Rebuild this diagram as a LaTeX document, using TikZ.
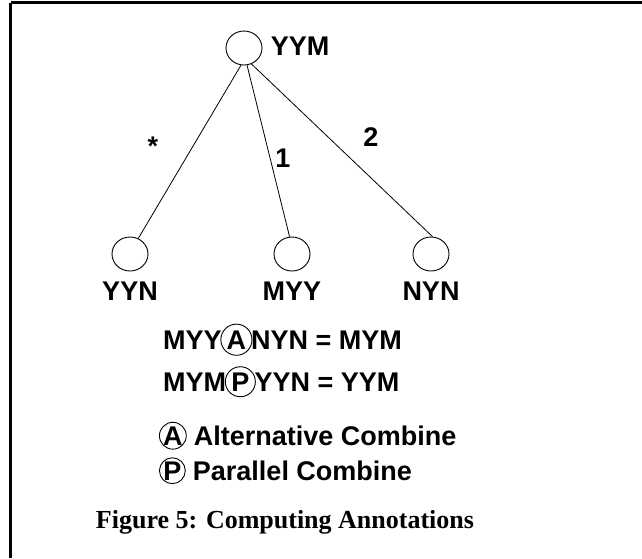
\documentclass[tikz,border=0pt]{standalone}
\usepackage{fontspec}
\setmainfont{Liberation Sans}
\newfontfamily\capfont{Liberation Serif}
\usetikzlibrary{shapes.geometric}
\begin{document}
\begin{tikzpicture}[x=1pt,y=-1pt,
  frameline/.style={line width=3pt},
  tnode/.style={draw,ellipse,minimum width=36pt,minimum height=34pt,inner sep=0pt,line width=0.9pt},
  lbl/.style={font=\fontsize{27}{30}\selectfont\bfseries,inner sep=0pt},
  circ/.style={draw,circle,inner sep=0pt,line width=0.9pt,font=\fontsize{27}{30}\selectfont\bfseries},
  bigcirc/.style={circ,inner sep=1.5pt},
  edge/.style={line width=0.8pt}]
\useasboundingbox (0,0) rectangle (642,558);
\draw[frameline] (10.5,2.5) -- (642,2.5);
\draw[frameline] (10.5,2.5) -- (10.5,558);
% tree
\node[tnode] (top) at (244,48) {};
\node[tnode] (yyn) at (130,254) {};
\node[tnode] (myy) at (292,254) {};
\node[tnode] (nyn) at (431,254) {};
\node[lbl] (ltop) at (300,46) {YYM};
\node[lbl] (lyyn) at (130,291) {YYN};
\node[lbl] (lmyy) at (292,291) {MYY};
\node[lbl] (lnyn) at (431,291) {NYN};
\draw[edge] (top.-100) -- (yyn.62);
\draw[edge] (top.-80) -- (myy.98);
\draw[edge] (top.-65) -- (nyn.85);
\node[lbl] (star) at (153,146) {*};
\node[lbl] (one) at (283,158) {1};
\node[lbl] (two) at (371,137) {2};
% equations
\node[lbl,anchor=base west] (e1a) at (163,349) {MYY};
\node[bigcirc,anchor=base west] (e1c) at ([xshift=-1.5pt]e1a.base east) {A};
\node[lbl,anchor=base west] (e1b) at ([xshift=-1.5pt]e1c.base east) {NYN = MYM};
\node[lbl,anchor=base west] (e2a) at (163,391) {MYM};
\node[bigcirc,anchor=base west] (e2c) at ([xshift=-1.5pt]e2a.base east) {P};
\node[lbl,anchor=base west] (e2b) at ([xshift=-1.5pt]e2c.base east) {YYN = YYM};
% legend
\node[circ,anchor=base west] (la) at (159,445) {A};
\node[lbl,anchor=base west] (lat) at ([xshift=7pt]la.base east) {Alternative Combine};
\node[circ,anchor=base west] (lp) at (159,480) {P};
\node[lbl,anchor=base west] (lpt) at ([xshift=7pt]lp.base east) {Parallel Combine};
% caption
\node[font=\capfont\fontsize{26}{29}\selectfont\bfseries,inner sep=0pt] (cap) at (285,522) {Figure 5: Computing Annotations};
\end{tikzpicture}
\end{document}
